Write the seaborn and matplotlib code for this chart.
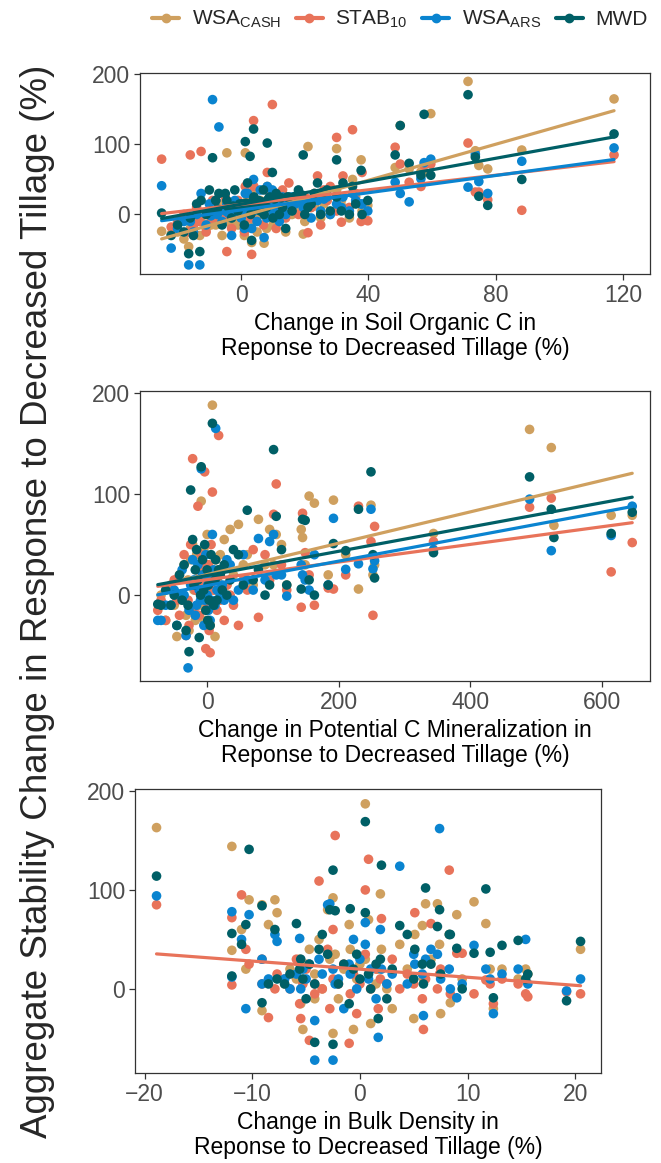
import numpy as np
import pandas as pd
import matplotlib
matplotlib.use("Agg")
import matplotlib.pyplot as plt
from matplotlib.lines import Line2D
import seaborn as sns

nan = np.nan

metrics = ["WSA_CASH", "STAB10", "WSA_ARS", "MWD"]
legend_labels = [r"WSA$_{CASH}$", r"STAB$_{10}$", r"WSA$_{ARS}$", "MWD"]
colors = ["#CFA05F", "#E8735A", "#0A84D0", "#005F66"]

# --- change in soil organic C (%) vs aggregate stability change (%)
soc_x = [-25, -22, -16.5, -13, -16, -12.6, -9, -7, -4.5, 1.3, 3.9, 9.8, 8.2, 2.8, 3.3,
         7.2, 21, 19.5, 30, 35, 37.7, 39.8, 31.5, -20, -18, -15, -14, -11, -10, -8,
         -6, -5, -3, -2, -1, 0, 1, 2, 3, 4, 5, 6, 7, 8, 9, 10, 11, 12, 13, 14, 15,
         16, 18, 20, 22, 24, 25, 27, 28, 30, 32, 34, 36, 38, 48.4, 50, 52.8, 56.5,
         57.5, 59.6, 71.3, 73.6, 74.7, 77.5, 88.2, 117.2,
         -9.5, -7.5, -4, -2.5, -0.5, 0.5, 1.5, 2.5, 3.5, 4.5, 5.5, 6.5, 8.5, 10.5,
         12.5, 14.5, 17, 19, 23, 26]
soc_cash = [-24, -28, -46, -30, -20, -10, 5, 15, 88, 88, 30, 20, 40, 30, -40,
            -41, 97, -28, 94, 50, 78, 13, 20, -25, -35, -15, -5, -20, 5, -15,
            -30, 10, -15, 15, -15, -5, -30, 25, -15, 10, -25, 20, 0, -20, 30, -15, 15, -5, 30, -25, 10,
            0, 30, -10, 10, 25, -5, 20, 0, 35, 10, -5, 25, 5, 67, 127, 65, 61,
            60, 144, 190, 91, 70, 65, 92, 165,
            -15, -12, -10, -8, -8, -5, -3, -4, 0, -2, 2, 0, 3, 5,
            5, 8, 8, 10, 12, 15]
soc_stab = [79, -18, -25, -10, 85, 90, 20, 0, -53, 40, 134, 157, 60, 10, -57,
            10, -26, 20, 110, 121, -10, -9, -11, -10, 0, -15, 10, -25, 5, 20,
            -5, 25, -20, 10, 20, 0, -25, 30, -5, 40, 10, 15, -15, 35, 10, 25, -20, 5, 35, -5, 45,
            15, 0, 25, 10, 55, -15, 20, 40, 5, 55, 10, 30, 60, 96, 72, 46, 40,
            70, 72, 102, 32, 32, 21, 6, 85,
            -10, -5, 0, 2, 5, 5, 8, 6, 10, 8, 12, 10, 15, 15,
            20, 18, 25, 22, 30, 35]
soc_ars = [41, -48, -72, -72, -10, 30, 164, 125, 15, 30, 50, 35, 40, 10, -20,
           -33, 20, 10, 25, 30, 15, 5, 10, -20, -10, -25, 0, -15, 15, 20,
           -10, 5, -30, 20, 0, -5, -20, 30, 10, 5, -10, 35, 15, -5, 25, 5, 10, -10, 25, 0, 15,
           25, 20, 10, -5, 20, 5, 25, 0, 15, 25, 5, 20, 15, 46, 30, 18, 51,
           74, 79, 39, 86, 47, 30, 76, 95,
           -2, 0, 2, 3, 5, 5, 6, 5, 7, 8, 8, 10, 10, 12,
           12, 14, 15, 18, 20, 22]
soc_mwd = [2, -30, -56, -53, -5, 20, 81, 30, 20, 104, 122, 60, 102, 83, -37,
           0, 10, 85, 78, 40, 63, 20, 5, -15, -25, -30, 15, 0, 35, 20,
           -15, 30, -5, 35, 5, 15, -15, 45, 0, 25, 10, 5, 35, 10, 25, -5, 30, 0, 10, -20, 25,
           5, 35, 0, 15, 45, 0, 35, 5, 25, 45, 0, 15, 0, 85, 127, 73, 56,
           143, 56, 171, 82, 26, 13, 50, 115,
           5, 8, 10, 12, 15, 15, 16, 14, 18, 17, 20, 18, 22, 22,
           24, 25, 26, 28, 30, 32]

# --- change in potential C mineralization (%)
cmin_x = [-75, -70, -63, -55, -50, -46, -42, -38, -35, -32, -29, -27.5, -25, -22, -20,
          -18, -16, -14, -12, -10, -9, -7, -5, -3.7, -2, 0, 1, 2, 3, 4.6, 6, 8, 10, 12,
          13, 15, 17.5, 20, 23, 26, 30, 35, 40, 47.6, 55, 61, 70, 78, 88, 95, 101,
          105, 113, 121, 143, 145, 149, 155, 163, 184, 192, 210.6, 230, 249, 254.5,
          252, 344, 490, 523, 527, 614, 646]
cmin_cash = [nan, 0, -25, 5, -10, -41, 20, -5, 30, -20, 15, -35, 35, 50, 5,
             -25, 40, 10, -10, 25, 93, 0, 45, -25, 15, 60, -15, 30, -5, -30, 20, 188, 5, -41,
             35, 15, 25, 40, 0, 55, 10, 65, 20, 70, 30, 40, 10, 75, 30, 65, 30,
             60, 50, 10, 65, 57, 30, 98, 91, 20, 94, 40, 6, 89, 30,
             20, 61, 164, 146, 69, 79, 79]
cmin_stab = [-15, -5, -25, 10, 15, -5, -20, 0, 40, -40, -5, -30, 50, 135, -15,
             5, 25, 88, -20, 30, 40, 10, 0, 122, -53, 15, -10, 30, -35, -57, 50, 102, 5, 20,
             15, -15, 158, -5, 25, -25, 10, 0, -10, -30, 15, 5, 45, -22, 40, 15, 80,
             110, 30, 5, -12, 81, 42, 20, -10, 7, 6, 20, 88, 53, 68,
             -20, 53, 87, 96, nan, 23, 52]
cmin_ars = [-25, -25, -10, -10, 5, -30, 0, 25, 0, -40, -72, -15, 10, 35, 15,
            -20, -10, 30, 5, -5, 125, 20, -30, -5, 40, 0, 10, -15, 15, -25, -5, 60, 25, -10,
            165, 5, 5, 0, 10, -5, 35, 30, -5, 5, 40, 15, 5, 56, 15, 53, 60,
            20, 20, -1, 30, 20, 15, 5, 40, 10, 76, 25.5, 31, 85, 34,
            26, 45, 95, 44, nan, 59, 88]
cmin_mwd = [-9, -10, 5, -10, 0, -30, 20, -5, 30, -35, -10, -56, 104, 55, 10,
            25, 45, 15, -42, 0, 127, 35, 5, 50, -15, 25, -25, 10, -5, -30, 40, 170, -10, 15,
            35, -5, 25, 20, 5, 30, 0, 15, 45, 40, 10, 84, 15, 25, 0, 10, 144,
            78, 45, 10, 6, 75, 74, 15, 0, 10, 51, 44, 85, 122, 17,
            40, 42, 117, 85, 57, 61, 82]

# --- change in bulk density (%)
bd_x = [-18.9, -11.9, -11.9, -11, -10.3, -10.6, -9.1, -9.1, -8.5, -7.9, -7.7, -7, -6.5,
        -5.9, -5.6, -5.5, -5.3, -5, -4.7, -4.2, -4.2, -3.8, -3.5, -3, -2.8, -2.5, -2.5,
        -2.3, -2, -1.5, -1, -0.9, -0.6, -0.3, 0, 0.5, 0.5, 0.8, 1.0, 1.5, 1.7, 1.9, 2,
        2.5, 3, 3.7, 4.4, 5, 5.1, 5.8, 5.9, 6.1, 6.6, 7.2, 7.4, 7.5, 8.3, 8.4, 9, 9.5,
        10.6, 11.7, 12.1, 12.4, 13.2, 14.7, 15.4, 15.6, 19.2, 20.5]
bd_cash = [163, 144, 39, 60, 90, 20, -22, 85, 65, 90, 77, 5, 20,
           10, 30, -15, -41, 25, 40, -10, 15, 50, 0, 80, 30, -45, 92,
           35, -10, 20, 65, 40, -41, 10, 25, 187, 30, 70, -35, 5, 20, 96, 40,
           0, -20, 45, 20, -30, 55, 64, 10, 86, 30, 86, 45, -25, 55, -14, 75, 10,
           88, 66, 20, -20, 20, 10, 20, 15, nan, 40]
bd_stab = [85, 72, 4, 95, 25, 40, 5, 30, -29, 0, 15, 10, 0,
           30, -15, -30, 5, 20, -52, -5, 5, 109, 0, 40, -20, 10, 60,
           155, 5, 25, -55, -5, 15, -25, 5, 100, 35, 131, 0, 20, -20, 10, 71,
           5, 30, 0, 15, 5, 77, -10, -41, 10, 66, 0, 15, 20, 120, -5, 36, 36,
           -5, 9, 5, -15, 10, 5, -5, -8, -3, -5]
bd_ars = [94, 78, 12, 50, 75, -20, 5, 30, 10, 55, 48, 10, 0,
          15, 51, 0, 20, 10, 25, -72, -32, 30, 15, 85, 86, -72, 20,
          5, 10, -20, 25, 15, 50, 0, 30, 67, 45, 10, 20, -10, -49, 60, 20,
          5, 15, 124, 5, 35, 25, 15, -27, 30, 40, 35, 162, 10, 20, 0, -9, 5,
          44, 20, 10, -25, 15, 20, 50, 5, -2, 10]
bd_mwd = [114, 56, 13, 45, 141, 65, -14, 84, 5, 60, 10, 5, 15,
          66, 20, 30, 10, -10, 25, -54, 5, 40, 55, 35, 80, -56, 120,
          79, 5, 25, -15, 81, 20, 35, 10, 169, 77, 15, 0, 25, -30, 30, 125,
          -10, 20, 64, 55, 10, 40, 25, 5, 102, 25, 63, 80, 15, 55, 55, 41, 0,
          36, 101, 37, -9, 44, 49, 10, 15, -12, 48]


def long_table(x, cash, stab, ars, mwd):
    wide = pd.DataFrame({"x": x, "WSA_CASH": cash, "STAB10": stab,
                         "WSA_ARS": ars, "MWD": mwd})
    df = wide.melt(id_vars="x", var_name="metric", value_name="y")
    return df.dropna()


panels = [
    (long_table(soc_x, soc_cash, soc_stab, soc_ars, soc_mwd),
     "Change in Soil Organic C in\nReponse to Decreased Tillage (%)",
     [0, 40, 80, 120], (-31.8, 128.5), metrics),
    (long_table(cmin_x, cmin_cash, cmin_stab, cmin_ars, cmin_mwd),
     "Change in Potential C Mineralization in\nReponse to Decreased Tillage (%)",
     [0, 200, 400, 600], (-102, 673), metrics),
    (long_table(bd_x, bd_cash, bd_stab, bd_ars, bd_mwd),
     "Change in Bulk Density in\nReponse to Decreased Tillage (%)",
     [-20, -10, 0, 10, 20], (-20.9, 22.4), ["STAB10"]),
]

sns.set_theme(style="ticks")
plt.rcParams["font.family"] = ["Liberation Sans", "DejaVu Sans"]
plt.rcParams["mathtext.fontset"] = "custom"
plt.rcParams["mathtext.rm"] = "Liberation Sans"
plt.rcParams["mathtext.default"] = "regular"

fig = plt.figure(figsize=(6.61, 11.63), dpi=100)
W, H = 661, 1163
# left, right, top, bottom of each panel in pixels
boxes = [(140, 650, 73, 274), (140, 650, 391, 681), (135, 601, 789, 1073)]
palette = dict(zip(metrics, colors))

for (df, xlabel, xticks, xlim, fit_metrics), (l, r, t, b) in zip(panels, boxes):
    ax = fig.add_axes([l / W, 1 - b / H, (r - l) / W, (b - t) / H])
    sns.scatterplot(data=df, x="x", y="y", hue="metric", hue_order=metrics,
                    palette=palette, s=48, linewidth=0, alpha=1,
                    legend=False, ax=ax)
    for m in fit_metrics:
        sns.regplot(data=df[df["metric"] == m], x="x", y="y", scatter=False,
                    ci=None, color=palette[m], line_kws={"lw": 2.3}, ax=ax)
    ax.set_xlim(*xlim)
    ax.set_ylim(-85, 202)
    ax.set_xticks(xticks)
    ax.set_yticks([0, 100, 200])
    ax.set_xlabel(xlabel, fontsize=16.5, color="black", labelpad=4, linespacing=1.1)
    ax.set_ylabel("")
    for sp in ax.spines.values():
        sp.set_color("#333333")
        sp.set_linewidth(0.9)
    ax.tick_params(direction="out", length=4, width=0.9, color="#333333",
                   labelcolor="#4D4D4D", labelsize=16.5, pad=3)

fig.text(0.056, 0.483, "Aggregate Stability Change in Response to Decreased Tillage (%)",
         rotation=90, ha="center", va="center", fontsize=26.5)

handles = [Line2D([0], [0], color=c, lw=3, marker="o", markersize=6) for c in colors]
fig.legend(handles, legend_labels, loc="center", bbox_to_anchor=(0.605, 0.983), ncol=4,
           frameon=False, fontsize=15, handlelength=1.3, handletextpad=0.6,
           columnspacing=0.7)

fig.savefig("out.png", dpi=100)
